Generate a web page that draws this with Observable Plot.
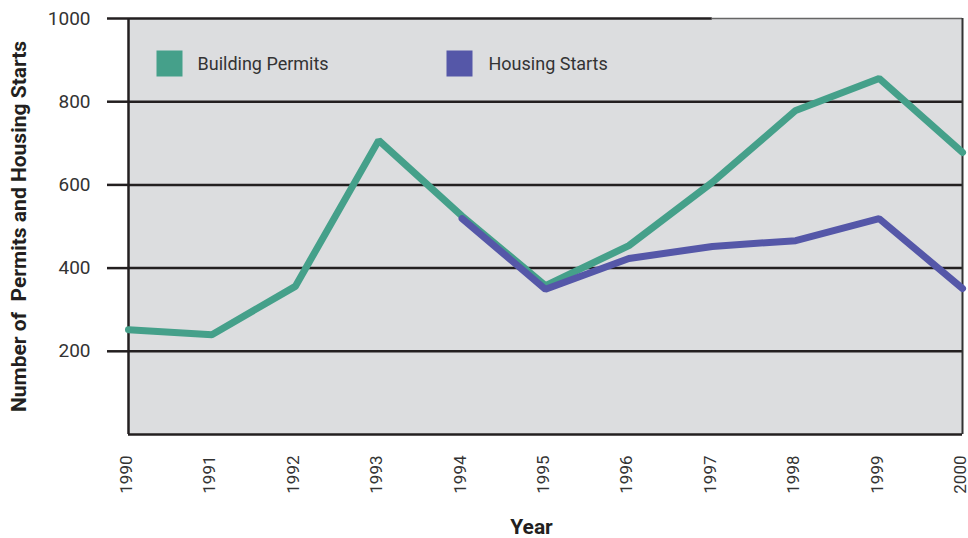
<!DOCTYPE html>
<html>
<head>
<meta charset="utf-8">
<script src="https://cdn.jsdelivr.net/npm/d3@7"></script>
<script src="https://cdn.jsdelivr.net/npm/@observablehq/plot@0.6"></script>
<style>
  html, body { margin: 0; padding: 0; background: #fff; }
  #chart svg { font-family: Roboto, "Liberation Sans", sans-serif; }
  #chart svg [aria-label="y-axis label"] text { font-weight: bold; font-size: 21px; fill: #231f20; }
</style>
</head>
<body>
<div id="chart"></div>
<script>
const years = [1990, 1991, 1992, 1993, 1994, 1995, 1996, 1997, 1998, 1999, 2000];
const buildingPermits = [252, 240, 356, 707, 525, 358, 454, 606, 779, 856, 678];
const housingStartYears = [1994, 1995, 1996, 1997, 1998, 1999, 2000];
const housingStarts = [519, 349, 423, 452, 466, 519, 351];
const seriesNames = ["Building Permits", "Housing Starts"];
const seriesColors = ["#45a08a", "#5557a8"];
const yTicks = [200, 400, 600, 800, 1000];
const xTitle = "Year";
const yTitle = "Number of  Permits and Housing Starts";

const permitsData = years.map((y, i) => ({year: y, value: buildingPermits[i]}));
const startsData = housingStartYears.map((y, i) => ({year: y, value: housingStarts[i]}));

const chart = Plot.plot({
  width: 968,
  height: 538,
  marginTop: 18,
  marginLeft: 128,
  marginRight: 6,
  marginBottom: 104,
  style: {fontSize: "17px", color: "#231f20", background: "#fff", overflow: "visible"},
  x: {domain: [1990, 2000]},
  y: {domain: [0, 1000]},
  marks: [
    Plot.frame({fill: "#dcdddf", stroke: null}),
    Plot.ruleY([200, 400, 600, 800], {stroke: "#231f20", strokeWidth: 2.5}),
    Plot.ruleY([1000], {x1: 1990, x2: 1997, stroke: "#231f20", strokeWidth: 2.5}),
    Plot.ruleY([1000], {x1: 1997, x2: 2000, stroke: "#666", strokeWidth: 1.5}),
    Plot.ruleX([1990], {stroke: "#231f20", strokeWidth: 2.5}),
    Plot.ruleX([2000], {stroke: "#333", strokeWidth: 2}),
    Plot.ruleY([0], {stroke: "#231f20", strokeWidth: 2.5}),
    Plot.axisY({
      ticks: yTicks, tickSize: 21, tickPadding: 17, tickFormat: d => String(d),
      stroke: "#231f20", strokeWidth: 2.5, fill: "#333", fontSize: 19,
      label: yTitle, labelAnchor: "center", labelArrow: "none",
      labelOffset: 117
    }),
    Plot.axisX({
      ticks: years, tickSize: 0, tickPadding: 21, tickRotate: -90, tickFormat: d => String(d),
      fill: "#333", fontSize: 17, dx: -2, label: null
    }),
    Plot.text([xTitle], {text: d => d, frameAnchor: "bottom", lineAnchor: "middle", dx: -14, dy: 93, fontSize: 21, fontWeight: "bold", fill: "#231f20"}),
    Plot.line(permitsData, {x: "year", y: "value", stroke: seriesColors[0], strokeWidth: 7, strokeLinejoin: "miter"}),
    Plot.line(startsData, {x: "year", y: "value", stroke: seriesColors[1], strokeWidth: 7, strokeLinejoin: "miter"}),
    Plot.dot([seriesNames[0]], {frameAnchor: "top-left", dx: 41, dy: 45, symbol: "square", r: 14.67, fill: seriesColors[0], stroke: null}),
    Plot.dot([seriesNames[1]], {frameAnchor: "top-left", dx: 331, dy: 45, symbol: "square", r: 14.67, fill: seriesColors[1], stroke: null}),
    Plot.text([seriesNames[0]], {text: d => d, frameAnchor: "top-left", lineAnchor: "middle", dx: 69, dy: 46, textAnchor: "start", fontSize: 18, fill: "#333"}),
    Plot.text([seriesNames[1]], {text: d => d, frameAnchor: "top-left", lineAnchor: "middle", dx: 360, dy: 46, textAnchor: "start", fontSize: 18, fill: "#333"})
  ]
});
document.getElementById("chart").appendChild(chart);
</script>
</body>
</html>
